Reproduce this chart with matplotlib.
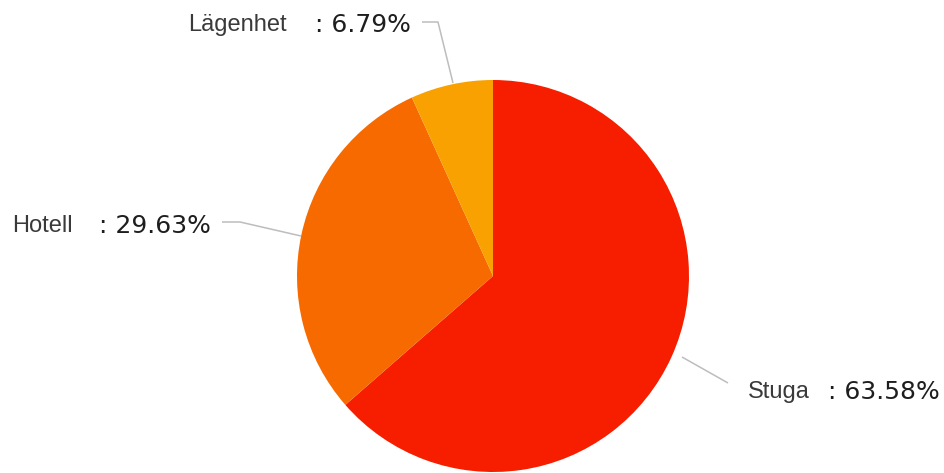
import matplotlib
matplotlib.use("Agg")
import matplotlib.pyplot as plt

# accommodation type shares
categories = ["Stuga", "Hotell", "Lägenhet"]
shares = [63.58, 29.63, 6.79]
colors = ["#F71E00", "#F76A00", "#F9A100"]

W, H = 944, 473
fig = plt.figure(figsize=(W / 100, H / 100), dpi=100)
ax = fig.add_axes([0, 0, 1, 1])


def py(y):
    # pixel rows count from the top
    return H - y


cx, cy, r = 493, 276, 196
ax.pie(shares, colors=colors, startangle=90, counterclock=False,
       center=(cx, py(cy)), radius=r, frame=True,
       wedgeprops=dict(linewidth=0))
ax.set_xlim(0, W)
ax.set_ylim(0, H)
ax.set_aspect("equal")
ax.axis("off")

# label placement: name x, value x, baseline y, leader polyline
label_pos = {
    "Lägenhet": (188, 315, 31, [(422, 22), (438, 22), (453, 83)]),
    "Hotell": (12, 99, 232, [(222, 222), (240, 222), (301, 236)]),
    "Stuga": (748, 828, 398, [(728, 383), (682, 357)]),
}

for name, share in zip(categories, shares):
    nx, vx, by, pts = label_pos[name]
    ax.text(nx, py(by), name, fontsize=17, family="Liberation Sans",
            color="#3a3a3a", va="baseline", ha="left")
    ax.text(vx, py(by + 1), f": {share:.2f}%", fontsize=18, family="DejaVu Sans",
            color="#1e1e1e", va="baseline", ha="left")
    xs = [p[0] for p in pts]
    ys = [py(p[1]) for p in pts]
    ax.plot(xs, ys, color="#bdbdbd", lw=1.1, solid_capstyle="butt")

fig.savefig("out.png", dpi=100)
